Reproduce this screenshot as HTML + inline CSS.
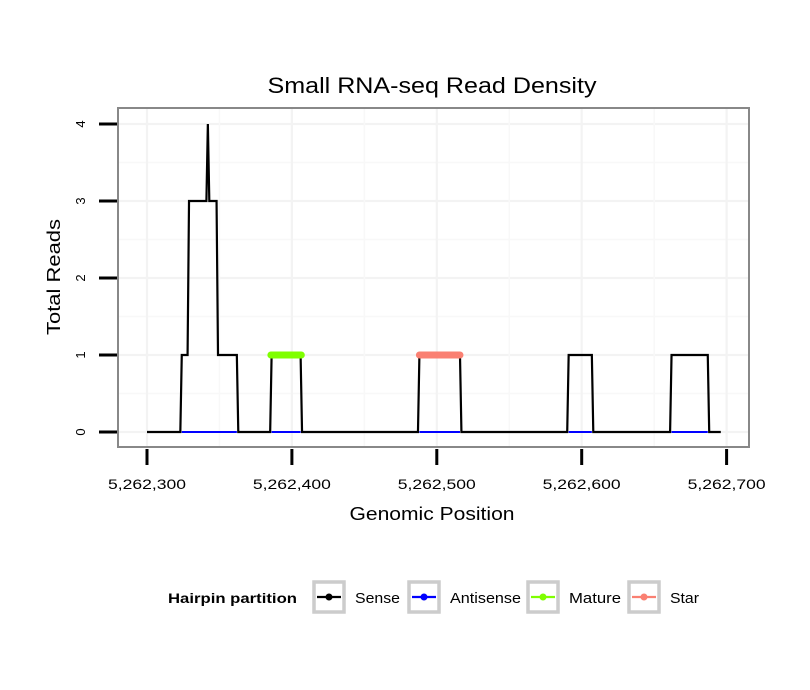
<!DOCTYPE html>
<html><head><meta charset="utf-8"><style>body{margin:0;background:#fff}svg{display:block;font-family:"Liberation Sans",sans-serif}</style></head>
<body>
<svg id="chart" width="810" height="690">
<g id="grid"></g><g id="series"></g><g id="axes"></g>
<text x="432" y="93" text-anchor="middle" font-size="22" textLength="329" lengthAdjust="spacingAndGlyphs">Small RNA-seq Read Density</text>
<text x="432" y="520" text-anchor="middle" font-size="18" textLength="165" lengthAdjust="spacingAndGlyphs">Genomic Position</text>
<text x="0" y="0" transform="translate(60,277) rotate(-90)" text-anchor="middle" font-size="18" textLength="116" lengthAdjust="spacingAndGlyphs">Total Reads</text>
<g id="legend"></g>
</svg>
<script>
const senseX=[300,323,324,328,329,341,342,343,348,349,362,363,385,386,406,407,487,488,516,517,590,591,607,608,661,662,687,688,696];
const senseY=[0,0,1,1,3,3,4,3,3,1,1,0,0,1,1,0,0,1,1,0,0,1,1,0,0,1,1,0,0];
const antisenseRanges=[[324,362],[386,406],[488,516],[591,607],[662,687]];
const matureRange=[385.5,406.5];const matureValue=1;
const starRange=[488,516];const starValue=1;
const xTicks=[5262300,5262400,5262500,5262600,5262700];
const xTickLabels=["5,262,300","5,262,400","5,262,500","5,262,600","5,262,700"];
const yTicks=[0,1,2,3,4];
const legendLabels=["Sense","Antisense","Mature","Star"];
const legendColors=["#000","#0000ff","#7fff00","#fa8072"];
const X0=5262000;
const sx=v=>147+(v-300)*1.449;
const sy=v=>432-v*77;
const NS="http://www.w3.org/2000/svg";
function mk(p,t,a){const e=document.createElementNS(NS,t);for(const k in a)e.setAttribute(k,a[k]);p.appendChild(e);return e;}
const grid=document.getElementById('grid'),ser=document.getElementById('series'),ax=document.getElementById('axes'),lg=document.getElementById('legend');
for(let v=0;v<=4.5;v+=0.5){const y=sy(v);if(y<110)continue;const l=mk(grid,'line',{x1:118,x2:749,y1:y,y2:y,stroke:v%1?'#f8f8f8':'#f3f3f3','stroke-width':v%1?1.5:2.2});

}
for(let v=250;v<=750;v+=50){const x=sx(v);if(x<118||x>749)continue;const l=mk(grid,'line',{x1:x,x2:x,y1:108,y2:447,stroke:v%100?'#f8f8f8':'#f3f3f3','stroke-width':v%100?1.5:2.2});

}
const r=mk(ax,'rect',{x:118,y:108,width:631,height:339,fill:'none',stroke:'#888','stroke-width':2});


let pts=senseX.map((x,i)=>sx(x)+','+sy(senseY[i])).join(' ');
const sl=mk(ser,'polyline',{points:pts,fill:'none',stroke:'#000','stroke-width':2.2});


antisenseRanges.forEach(a=>{const l=mk(ser,'line',{x1:sx(a[0]),x2:sx(a[1]),y1:sy(0),y2:sy(0),stroke:'#0000ff','stroke-width':2});

});
const m=mk(ser,'line',{x1:sx(matureRange[0]),x2:sx(matureRange[1]),y1:sy(matureValue),y2:sy(matureValue),stroke:'#7fff00','stroke-width':7,'stroke-linecap':'round'});


const s=mk(ser,'line',{x1:sx(starRange[0]),x2:sx(starRange[1]),y1:sy(starValue),y2:sy(starValue),stroke:'#fa8072','stroke-width':7,'stroke-linecap':'round'});


xTicks.forEach((t,i)=>{const x=sx(t-X0);const l=mk(ax,'line',{x1:x,x2:x,y1:449,y2:465,stroke:'#000','stroke-width':3});


const tx=mk(ax,'text',{x:x,y:489,'text-anchor':'middle','font-size':14,textLength:78,lengthAdjust:'spacingAndGlyphs'});tx.textContent=xTickLabels[i];

});
yTicks.forEach(t=>{const y=sy(t);const l=mk(ax,'line',{x1:99,x2:117,y1:y,y2:y,stroke:'#000','stroke-width':3});


const tx=mk(ax,'text',{transform:`translate(85,${y}) rotate(-90)`,'text-anchor':'middle','font-size':13});tx.textContent=t;

});
const lt=mk(lg,'text',{x:168,y:603,'font-size':14,'font-weight':'bold',textLength:129,lengthAdjust:'spacingAndGlyphs'});lt.textContent='Hairpin partition';


const bx=[314,409,528,629];
const tl=[45,71,52,29];
legendLabels.forEach((lab,i)=>{const g=mk(lg,'g',{});


mk(g,'rect',{x:bx[i],y:582,width:30,height:30,fill:'#fff',stroke:'#ccc','stroke-width':3.5});
mk(g,'line',{x1:bx[i]+3,x2:bx[i]+27,y1:597,y2:597,stroke:legendColors[i],'stroke-width':2.2});
mk(g,'circle',{cx:bx[i]+15,cy:597,r:3.5,fill:legendColors[i]});
const t=mk(g,'text',{x:bx[i]+41,y:603,'font-size':15,textLength:tl[i],lengthAdjust:'spacingAndGlyphs'});t.textContent=lab;});
</script>
</body></html>
